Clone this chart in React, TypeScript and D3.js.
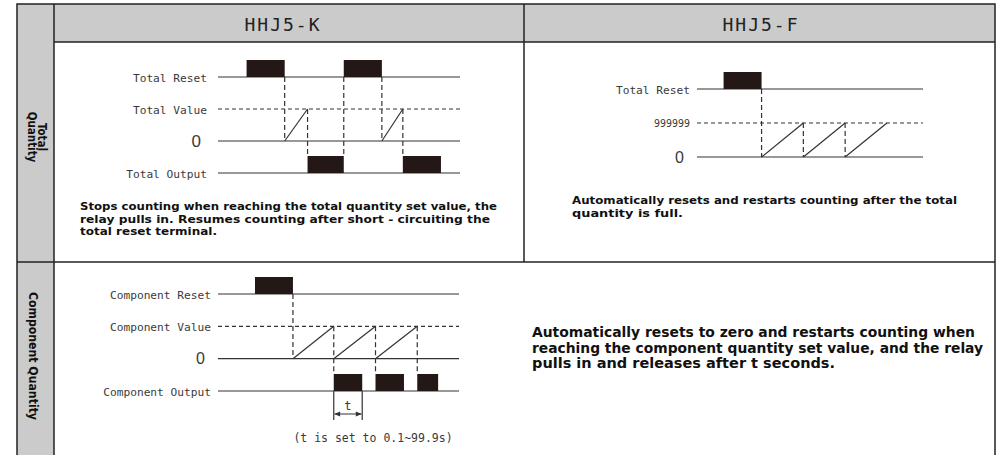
import * as d3 from 'd3';

const W = 1000,
    H = 455;

const TABLE = { left: 17, side: 54, mid: 524, right: 995, top: 4, head: 42, split: 262, bottom: 470 };
const GRAY = '#cbcbcb';
const INK = '#231815';
const LINE = '#333';
const MONO = '"DejaVu Sans Mono", monospace';
const NARROW = '"Liberation Sans Narrow", "DejaVu Sans Condensed", sans-serif';
const SANS = '"Liberation Sans", Arial, sans-serif';
const PULSE_H = 17;

// table titles
const columnTitles = ['HHJ5-K', 'HHJ5-F'];
const totalTitle = ['Total', 'Quantity'];
const componentTitle = 'Component Quantity';

// HHJ5-K (times in arbitrary units)
const kRows = ['Total Reset', 'Total Value', '0', 'Total Output'];
const kResets = [[1.5, 3.5], [6.6, 8.6]];
const kRamps = [[3.5, 4.7], [8.6, 9.7]];
const kOutputs = [[4.7, 6.6], [9.7, 11.7]];
const kGuides: [number, string, string][] = [
    [3.5, 'Total Reset', '0'],
    [4.7, 'Total Value', 'Total Output'],
    [6.6, 'Total Reset', 'Total Output'],
    [8.6, 'Total Reset', '0'],
    [9.7, 'Total Value', 'Total Output'],
];
const kSpan = 12.7;
const kNote = [
    'Stops counting when reaching the total quantity set value, the',
    'relay pulls in. Resumes counting after short - circuiting the',
    'total reset terminal.',
];

// HHJ5-F
const fRows = ['Total Reset', '999999', '0'];
const fResets = [[1.4, 3.4]];
const fRamps = [[3.4, 5.6], [5.6, 7.8], [7.8, 10.0]];
const fOutputs: number[][] = [];
const fGuides: [number, string, string][] = [
    [3.4, 'Total Reset', '0'],
    [5.6, '999999', '0'],
    [7.8, '999999', '0'],
];
const fSpan = 11.9;
const fNote = ['Automatically resets and restarts counting after the total', 'quantity is full.'];

// component quantity
const cRows = ['Component Reset', 'Component Value', '0', 'Component Output'];
const cResets = [[1.95, 3.95]];
const cRamps = [[3.95, 6.1], [6.1, 8.3], [8.3, 10.5]];
const cOutputs = [[6.1, 7.6], [8.3, 9.8], [10.5, 11.6]];
const cGuides: [number, string, string][] = [
    [3.95, 'Component Reset', '0'],
    [6.1, 'Component Value', 'Component Output'],
    [8.3, 'Component Value', 'Component Output'],
    [10.5, 'Component Value', 'Component Output'],
];
const cSpan = 12.7;
const cNote = [
    'Automatically resets to zero and restarts counting when',
    'reaching the component quantity set value, and the relay',
    'pulls in and releases after t seconds.',
];
const tNote = '(t is set to 0.1~99.9s)';

type DiagramProps = {
    rows: string[];
    resets: number[][];
    ramps: number[][];
    outputs: number[][];
    guides: [number, string, string][];
    span: number;
    xRange: [number, number];
    yRange: [number, number];
    labelX: number;
    zeroSize: number;
    tMarker?: boolean;
};

function TimingDiagram({ rows, resets, ramps, outputs, guides, span, xRange, yRange, labelX, zeroSize, tMarker }: DiagramProps) {
    const x = d3.scaleLinear().domain([0, span]).range(xRange);
    const y = d3.scalePoint<string>().domain(rows).range(yRange);
    const Y = (r: string) => y(r) ?? 0;
    const [resetRow, valueRow, zeroRow, outRow] = rows;
    const seg = d3.line<[number, number]>();
    const guideEnd = (r: string) => (r === outRow ? Y(r) - PULSE_H : Y(r));

    return (
        <g>
            {rows.map((r) => {
                const isZero = r === '0';
                const isNum = /^\d+$/.test(r) && !isZero;
                return (
                    <text
                        key={'l' + r}
                        x={isZero ? labelX - 6 : labelX}
                        y={isZero ? Y(r) + zeroSize * 0.36 : Y(r) + (isNum ? 3.5 : 4.5)}
                        textAnchor="end"
                        fontFamily={isZero ? SANS : isNum ? NARROW : MONO}
                        fontSize={isZero ? zeroSize : isNum ? 10.5 : 11.2}
                        fill="#3a3a3a"
                    >
                        {r}
                    </text>
                );
            })}
            {rows.map((r) => (
                <line
                    key={'b' + r}
                    x1={x(0)}
                    x2={x(span)}
                    y1={Y(r)}
                    y2={Y(r)}
                    stroke={LINE}
                    strokeWidth={1.2}
                    strokeDasharray={r === valueRow ? '4 3' : undefined}
                />
            ))}
            {guides.map(([t, from, to], i) => (
                <line
                    key={'g' + i}
                    x1={x(t)}
                    x2={x(t)}
                    y1={Y(from)}
                    y2={guideEnd(to)}
                    stroke={LINE}
                    strokeWidth={1.2}
                    strokeDasharray="5 3"
                />
            ))}
            {ramps.map(([a, b], i) => (
                <path
                    key={'r' + i}
                    d={seg([[x(a), Y(zeroRow)], [x(b), Y(valueRow)]]) ?? ''}
                    stroke={LINE}
                    strokeWidth={1.2}
                    fill="none"
                />
            ))}
            {resets.map(([a, b], i) => (
                <rect key={'p' + i} x={x(a)} y={Y(resetRow) - PULSE_H} width={x(b) - x(a)} height={PULSE_H} fill={INK} />
            ))}
            {outRow &&
                outputs.map(([a, b], i) => (
                    <rect key={'o' + i} x={x(a)} y={Y(outRow) - PULSE_H} width={x(b) - x(a)} height={PULSE_H} fill={INK} />
                ))}
            {tMarker && outputs.length > 0 && (
                <g>
                    {outputs[0].map((t, i) => (
                        <line key={'t' + i} x1={x(t)} x2={x(t)} y1={Y(outRow)} y2={Y(outRow) + 29} stroke={LINE} strokeWidth={1.2} />
                    ))}
                    <line
                        x1={x(outputs[0][0]) + 1}
                        x2={x(outputs[0][1]) - 1}
                        y1={Y(outRow) + 23}
                        y2={Y(outRow) + 23}
                        stroke={LINE}
                        strokeWidth={1}
                        markerStart="url(#arrow)"
                        markerEnd="url(#arrow)"
                    />
                    <text
                        x={(x(outputs[0][0]) + x(outputs[0][1])) / 2}
                        y={Y(outRow) + 19}
                        textAnchor="middle"
                        fontFamily={MONO}
                        fontSize={12}
                        fill="#3a3a3a"
                    >
                        t
                    </text>
                </g>
            )}
        </g>
    );
}

function Note({ lines, x, y, size, step, widths }: { lines: string[]; x: number; y: number; size: number; step: number; widths: number[] }) {
    return (
        <g>
            {lines.map((l, i) => (
                <text
                    key={i}
                    x={x}
                    y={y + i * step}
                    fontFamily={NARROW}
                    fontWeight="bold"
                    fontSize={size}
                    fill="#111"
                    textLength={widths[i]}
                    lengthAdjust="spacingAndGlyphs"
                >
                    {l}
                </text>
            ))}
        </g>
    );
}

export default function App() {
    const T = TABLE;
    return (
        <svg width={W} height={H} style={{ position: 'absolute', left: 0, top: 0, background: '#fff' }}>
            <defs>
                <marker id="arrow" viewBox="0 0 10 10" refX="9" refY="5" markerWidth="7" markerHeight="6" orient="auto-start-reverse">
                    <path d="M0,1L10,5L0,9z" fill={LINE} />
                </marker>
            </defs>
            {/* table background */}
            <rect x={T.left} y={T.top} width={T.side - T.left} height={T.bottom - T.top} fill={GRAY} />
            <rect x={T.side} y={T.top} width={T.right - T.side} height={T.head - T.top} fill={GRAY} />
            <rect x={T.left} y={T.top} width={T.right - T.left} height={T.bottom - T.top} fill="none" stroke="#222" strokeWidth={1.5} />
            <line x1={T.side} x2={T.side} y1={T.top} y2={T.bottom} stroke="#222" strokeWidth={1.5} />
            <line x1={T.side} x2={T.right} y1={T.head} y2={T.head} stroke="#222" strokeWidth={1.5} />
            <line x1={T.mid} x2={T.mid} y1={T.top} y2={T.split} stroke="#222" strokeWidth={1.5} />
            <line x1={T.left} x2={T.right} y1={T.split} y2={T.split} stroke="#222" strokeWidth={1.5} />

            {/* column titles */}
            {columnTitles.map((c, i) => (
                <text
                    key={c}
                    x={i === 0 ? 283 : 761}
                    y={31}
                    textAnchor="middle"
                    fontFamily={MONO}
                    fontSize={18}
                    letterSpacing={2}
                    fill="#222"
                >
                    {c}
                </text>
            ))}

            {/* row titles */}
            <g transform="translate(0,137) rotate(90)">
                {totalTitle.map((t, i) => (
                    <text key={t} x={0} y={-38 + i * 10.5} textAnchor="middle" fontFamily={NARROW} fontWeight="bold" fontSize={11.5} fill="#111">
                        {t}
                    </text>
                ))}
            </g>
            <g transform="translate(0,356) rotate(90)">
                <text x={0} y={-29} textAnchor="middle" fontFamily={NARROW} fontWeight="bold" fontSize={12} fill="#111" textLength={128} lengthAdjust="spacingAndGlyphs">
                    {componentTitle}
                </text>
            </g>

            <TimingDiagram
                rows={kRows}
                resets={kResets}
                ramps={kRamps}
                outputs={kOutputs}
                guides={kGuides}
                span={kSpan}
                xRange={[218, 460]}
                yRange={[77, 173]}
                labelX={207}
                zeroSize={17}
            />
            <Note lines={kNote} x={80} y={210} size={10.8} step={12.5} widths={[417, 410, 137]} />

            <TimingDiagram
                rows={fRows}
                resets={fResets}
                ramps={fRamps}
                outputs={fOutputs}
                guides={fGuides}
                span={fSpan}
                xRange={[697, 923]}
                yRange={[89, 157]}
                labelX={690}
                zeroSize={16}
            />
            <Note lines={fNote} x={572} y={204} size={10.8} step={12.5} widths={[385, 111]} />

            <TimingDiagram
                rows={cRows}
                resets={cResets}
                ramps={cRamps}
                outputs={cOutputs}
                guides={cGuides}
                span={cSpan}
                xRange={[218, 459]}
                yRange={[294, 391]}
                labelX={211}
                zeroSize={16}
                tMarker
            />
            <text x={373} y={442} textAnchor="middle" fontFamily={MONO} fontSize={11.5} fill="#3a3a3a">
                {tNote}
            </text>
            <Note lines={cNote} x={532} y={337} size={13.5} step={15.5} widths={[443, 451, 303]} />
        </svg>
    );
}
